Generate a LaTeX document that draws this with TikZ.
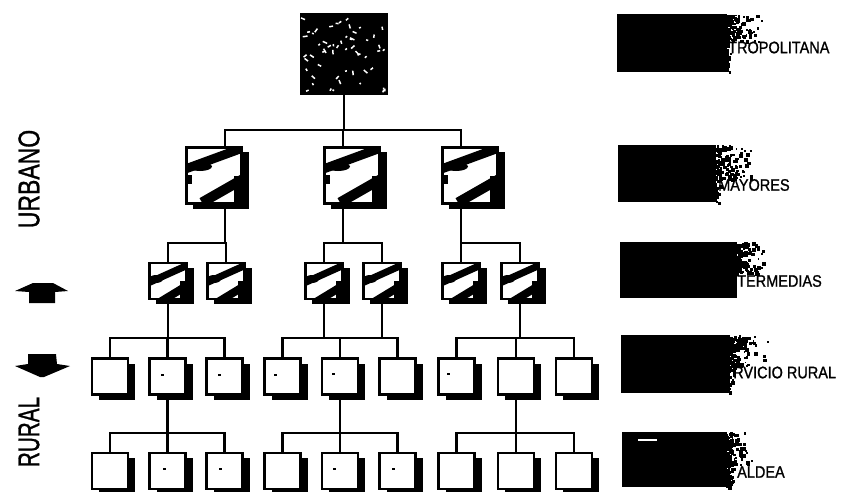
\documentclass[tikz,border=0pt]{standalone}
\usepackage{fontspec}
\setmainfont{Liberation Sans}
\newfontfamily\heavyfont[FakeBold=1.2]{Liberation Sans}
\usetikzlibrary{shadows}
\newcommand\mySpeck[5]{%
  \foreach \i in {1,...,#5}{%
    \pgfmathsetmacro\px{#1+(#2-#1)*rnd*rnd}%
    \pgfmathsetmacro\py{#3+(#4-#3)*rnd}%
    \pgfmathsetmacro\sz{1.5+2.5*rnd}%
    \fill[black] (\px,\py) rectangle ++(\sz,\sz);}}
\newcommand\myWhiteSpeck[5]{%
  \foreach \i in {1,...,#5}{%
    \pgfmathsetmacro\px{#1+(#2-#1)*rnd}%
    \pgfmathsetmacro\py{#3+(#4-#3)*rnd}%
    \pgfmathsetmacro\an{360*rnd}%
    \pgfmathsetmacro\ln{1.5+3.5*rnd}%
    \draw[white, line width=1.5pt] (\px,\py) -- ++(\an:\ln);}}
\newcommand\brushBig[1]{%
  \begin{scope}[shift={(#1.center)}]
    \clip (-26.5,-26.5) rectangle (26.5,26.5);
    \draw[line width=9pt] (-30,-6) -- (30,-28);
    \fill (-14,-9) ellipse [x radius=12pt, y radius=4.5pt];
    \draw[line width=10pt] (-12,27) -- (30,3);
    \fill (20,0) rectangle (27,27);
    \fill (-27,-1) rectangle (-22,8);
  \end{scope}}
\newcommand\brushMid[1]{%
  \begin{scope}[shift={(#1.center)}]
    \clip (-17.5,-17) rectangle (17.5,17);
    \draw[line width=7pt] (-20,2) -- (20,-16);
    \fill (-12,-2) ellipse [x radius=7pt, y radius=4pt];
    \draw[line width=8pt] (-8,21) -- (20,4);
    \fill (12,0) rectangle (18,18);
  \end{scope}}
\begin{document}
\begin{tikzpicture}[x=1pt,y=-1pt,
  conn/.style={line width=2.6pt, line cap=rect},
  boxbase/.style={draw=black, line width=2.6pt, fill=white, inner sep=0pt,
    general shadow={fill=black, shadow xshift=7pt, shadow yshift=-5pt}},
  smallbox/.style={boxbase, minimum width=36pt, minimum height=36pt},
  midbox/.style={boxbase, minimum width=37.5pt, minimum height=36pt},
  bigbox/.style={boxbase, minimum width=55.5pt, minimum height=56.5pt},
  topbox/.style={fill=black, inner sep=0pt, minimum width=88pt, minimum height=82pt},
  legendbar/.style={fill=black, inner sep=0pt},
  lgtext/.style={font=\heavyfont\fontsize{14.5}{15}\selectfont, inner sep=0pt, anchor=west, yscale=1.15},
  sidetext/.style={font=\heavyfont\fontsize{23}{23}\selectfont, inner sep=0pt, rotate=90, yscale=1.3}]
\useasboundingbox (0,0) rectangle (841,491);
\pgfmathsetseed{42}

% top box
\node[topbox] (T) at (344,54) {};
\myWhiteSpeck{303}{385}{17}{91}{55}

% level 2
\node[bigbox] (A1) at (214,175.5) {};
\node[bigbox] (A2) at (352,175.5) {};
\node[bigbox] (A3) at (470,175.5) {};
\brushBig{A1}\brushBig{A2}\brushBig{A3}

% level 3
\foreach \n/\x in {1/168,2/226,3/324,4/382,5/461,6/520}
  \node[midbox] (B\n) at (\x,281) {};
\foreach \n in {1,...,6} {\brushMid{B\n}}

% level 4 and 5
\foreach \n/\x in {1/110,2/167.5,3/224.5,4/282.5,5/340,6/397.5,7/456.5,8/516,9/574}{
  \node[smallbox] (C\n) at (\x,376.5) {};
  \node[smallbox] (D\n) at (\x,471) {};}
\foreach \b/\dx/\dy in {C2/-7/-3, C3/-7/-3, C4/-9/-3, C5/-8/-4, C7/-10/-4,
                        D2/-5/-3, D3/-6/-3, D5/-7/-3, D6/-6/-3}
  \fill (\b.center) ++(\dx,\dy) rectangle ++(3,2);

% bar levels
\coordinate (y1) at (0,130);
\coordinate (y2) at (0,243);
\coordinate (y3) at (0,338);
\coordinate (y4) at (0,433);
\coordinate (a1t) at ([xshift=11pt]A1.north);
\coordinate (a1b) at ([xshift=11pt]A1.south);
\coordinate (a2t) at ([xshift=-9pt]A2.north);
\coordinate (a2b) at ([xshift=-9pt]A2.south);
\coordinate (a3t) at ([xshift=-9pt]A3.north);
\coordinate (a3b) at ([xshift=-9pt]A3.south);

% connectors level 1 -> 2
\draw[conn] (T.south) -- (T.south |- y1);
\draw[conn] (a1t |- y1) -- (a3t |- y1);
\foreach \n in {a1t,a2t,a3t} \draw[conn] (\n) -- (\n |- y1);

% level 2 -> 3
\foreach \p/\l/\r in {a1b/B1/B2, a2b/B3/B4, a3b/B5/B6}{
  \draw[conn] (\p) -- (\p |- y2);
  \draw[conn] (\l.north |- y2) -- (\r.north |- y2);
  \draw[conn] (\l.north) -- (\l.north |- y2);
  \draw[conn] (\r.north) -- (\r.north |- y2);}

% level 3 -> 4
\foreach \p in {B1,B3,B4,B6} \draw[conn] (\p.south) -- (\p.south |- y3);
\foreach \l/\m/\r in {C1/C2/C3, C4/C5/C6, C7/C8/C9}{
  \draw[conn] (\l.north |- y3) -- (\r.north |- y3);
  \foreach \c in {\l,\m,\r} \draw[conn] (\c.north) -- (\c.north |- y3);}

% level 4 -> 5
\foreach \p/\l/\m/\r in {C2/D1/D2/D3, C5/D4/D5/D6, C8/D7/D8/D9}{
  \draw[conn] (\p.south) -- (\p.south |- y4);
  \draw[conn] (\l.north |- y4) -- (\r.north |- y4);
  \foreach \c in {\l,\m,\r} \draw[conn] (\c.north) -- (\c.north |- y4);}

% legend bars
\node[legendbar, minimum width=110pt, minimum height=58pt] (G1) at (672,43) {};
\mySpeck{725}{764}{14}{41}{130}
\mySpeck{725}{731}{41}{72}{30}
\node[lgtext] (t1) at (728,47.5) {TROPOLITANA};

\node[legendbar, minimum width=98pt, minimum height=57pt] (G2) at (667,173.5) {};
\mySpeck{714}{757}{145}{178}{130}
\mySpeck{714}{720}{178}{202}{25}
\node[lgtext] (t2) at (718,185) {MAYORES};

\node[legendbar, minimum width=117pt, minimum height=56pt] (G3) at (678.5,270) {};
\mySpeck{735}{766}{242}{273}{120}
\node[lgtext] (t3) at (737,281) {TERMEDIAS};

\node[legendbar, minimum width=109pt, minimum height=58pt] (G4) at (675.5,364) {};
\mySpeck{728}{768}{335}{365}{130}
\mySpeck{728}{734}{365}{393}{25}
\node[lgtext] (t4) at (733,372.5) {RVICIO RURAL};

\node[legendbar, minimum width=105pt, minimum height=55pt] (G5) at (674.5,459.5) {};
\mySpeck{725}{756}{432}{464}{110}
\mySpeck{725}{735}{464}{487}{40}
\draw[white, line width=2pt] (638,440) -- (657,440);
\node[lgtext] (t5) at (737,472) {ALDEA};

% side labels
\node[sidetext] (urb) at (29,179) {URBANO};
\node[sidetext, xscale=0.9] (rur) at (29,432) {RURAL};

% arrows
\fill (15,291) -- (33,283) -- (53,283) -- (68,291) -- (55,292) -- (55,303)
      -- (29,303) -- (29,292) -- cycle;
\fill (28,354) -- (56,354) -- (57,364) -- (70,366) -- (44,377) -- (40,377)
      -- (15,366) -- (28,364) -- cycle;
\end{tikzpicture}
\end{document}
